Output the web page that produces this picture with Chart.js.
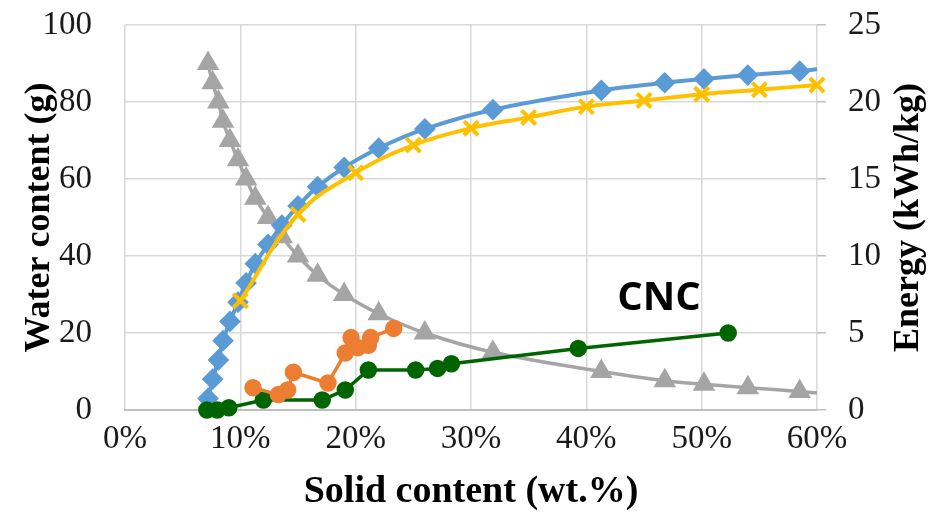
<!DOCTYPE html>
<html>
<head>
<meta charset="utf-8">
<script src="https://cdn.jsdelivr.net/npm/chart.js@4.4.1/dist/chart.umd.min.js"></script>
<style>
  html, body { margin: 0; padding: 0; background: #ffffff; }
  #wrap { width: 933px; height: 515px; position: relative; }
</style>
</head>
<body>
<div id="wrap"><canvas id="c" width="933" height="515"></canvas></div>
<script>
// ---- Data ----
const waterX      = [7.2, 7.6, 8.1, 8.5, 9.1, 9.8, 10.5, 11.3, 12.4, 13.6, 15.0, 16.7, 19.0, 22.0, 26.0, 31.9, 41.3, 46.8, 50.2, 54.0, 58.5, 60.0];
const removedWater = [3, 8, 13, 18, 23, 28, 33, 38, 43, 48, 53, 58, 63, 68, 73, 78, 83, 85, 86, 87, 88, 88.5];
const remainWater  = [90, 85, 80, 75, 70, 65, 60, 55, 50, 45, 40, 35, 30, 25, 20, 15, 10, 7.6, 6.7, 5.8, 4.8, 4.4];
const energyX      = [10, 15, 20, 25, 30, 35, 40, 45, 50, 55, 60];
const energyTheory = [7.1, 12.7, 15.4, 17.2, 18.3, 19.0, 19.7, 20.1, 20.5, 20.8, 21.1];
const orangeX      = [11.1, 13.3, 14.1, 14.6, 17.6, 19.1, 19.6, 20.2, 21.1, 21.3, 23.3];
const orangeY      = [1.45, 1.0, 1.3, 2.45, 1.75, 3.7, 4.7, 4.05, 4.2, 4.7, 5.3];
const cncX         = [7.1, 8.0, 9.0, 12.0, 17.1, 19.1, 21.1, 25.2, 27.1, 28.3, 39.3, 52.3];
const cncY         = [0, 0, 0.15, 0.65, 0.65, 1.3, 2.6, 2.6, 2.7, 3.0, 4.0, 5.0];
const xTicks       = [0, 10, 20, 30, 40, 50, 60];
const leftTicks    = [0, 20, 40, 60, 80, 100];
const rightTicks   = [0, 5, 10, 15, 20, 25];
const cncLabel     = { text: 'CNC', x: 46.3, y: 29 };
const leftTitle    = 'Water content (g)';
const rightTitle   = 'Energy (kWh/kg)';
const bottomTitle  = 'Solid content (wt.%)';

const zip = (xs, ys) => xs.map((x, i) => ({ x: x, y: ys[i] }));
const lastHidden = (n, r) => Array.from({ length: n }, (_, i) => i === n - 1 ? 0 : r);

const serif = "'Liberation Serif', 'Times New Roman', serif";

const extras = {
  id: 'extras',
  afterDatasetsDraw(chart) {
    const { ctx, chartArea, scales } = chart;
    ctx.save();
    // CNC label
    ctx.font = "bold 40px 'Open Sans', 'Liberation Sans', sans-serif";
    ctx.fillStyle = '#000';
    ctx.textAlign = 'center';
    ctx.textBaseline = 'middle';
    ctx.fillText(cncLabel.text, scales.x.getPixelForValue(cncLabel.x), scales.y.getPixelForValue(cncLabel.y));
    // Right axis title (reads bottom to top)
    ctx.font = 'bold 36px ' + serif;
    ctx.translate(909, (chartArea.top + chartArea.bottom) / 2);
    ctx.rotate(-Math.PI / 2);
    ctx.fillText(rightTitle, 0, 0);
    ctx.restore();
  }
};

const fitV = w => s => { s.width = w; s.paddingTop = 0; s.paddingBottom = 0; };

new Chart(document.getElementById('c'), {
  type: 'line',
  data: {
    datasets: [
      {
        label: 'orange', yAxisID: 'y1',
        data: zip(orangeX, orangeY),
        borderColor: '#ed7d31', backgroundColor: '#ed7d31',
        borderWidth: 3.5, pointRadius: 7, pointStyle: 'circle', tension: 0, clip: false
      },
      {
        label: 'CNC', yAxisID: 'y1',
        data: zip(cncX, cncY),
        borderColor: '#006400', backgroundColor: '#006400',
        borderWidth: 3.5, pointRadius: 7, pointStyle: 'circle', tension: 0, clip: false
      },
      {
        label: 'energy', yAxisID: 'y1',
        data: zip(energyX, energyTheory),
        borderColor: '#ffc000', backgroundColor: '#ffc000',
        borderWidth: 4, pointRadius: 10, pointBorderWidth: 4, pointStyle: 'crossRot', tension: 0.4, clip: false
      },
      {
        label: 'removed', yAxisID: 'y',
        data: zip(waterX, removedWater),
        borderColor: '#5b9bd5', backgroundColor: '#5b9bd5',
        borderWidth: 4, pointRadius: lastHidden(waterX.length, 8), pointStyle: 'rectRot', tension: 0.4, clip: false
      },
      {
        label: 'remaining', yAxisID: 'y',
        data: zip(waterX, remainWater),
        borderColor: '#a5a5a5', backgroundColor: '#a5a5a5',
        borderWidth: 3.5, pointRadius: lastHidden(waterX.length, 9.5), pointStyle: 'triangle', tension: 0.4, clip: false
      }
    ]
  },
  options: {
    responsive: false,
    animation: false,
    layout: { padding: { top: 25, left: 0, right: 0, bottom: 0 } },
    plugins: { legend: { display: false }, tooltip: { enabled: false } },
    scales: {
      x: {
        type: 'linear', min: 0, max: 60,
        afterBuildTicks: s => { s.ticks = xTicks.map(v => ({ value: v })); },
        afterFit: s => { s.height = 105; s.paddingLeft = 0; s.paddingRight = 0; },
        grid: { color: '#d9d9d9', lineWidth: 1.5, drawTicks: false },
        border: { display: true, color: '#bfbfbf', width: 2 },
        ticks: { font: { family: serif, size: 33 }, color: '#1a1a1a', padding: 10, maxRotation: 0, callback: v => v + '%' },
        title: { display: true, text: bottomTitle, font: { family: serif, size: 38, weight: 'bold' }, color: '#000', padding: { top: 0, bottom: 0 } }
      },
      y: {
        position: 'left', min: 0, max: 100,
        afterBuildTicks: s => { s.ticks = leftTicks.map(v => ({ value: v })); },
        afterFit: fitV(125),
        grid: { color: '#d9d9d9', lineWidth: 1.5, drawTicks: false },
        border: { display: false },
        ticks: { font: { family: serif, size: 33 }, color: '#1a1a1a', padding: 33 },
        title: { display: true, text: leftTitle, font: { family: serif, size: 36, weight: 'bold' }, color: '#000', padding: { top: 18, bottom: 0 } }
      },
      y1: {
        position: 'right', min: 0, max: 25,
        afterBuildTicks: s => { s.ticks = rightTicks.map(v => ({ value: v })); },
        afterFit: fitV(116),
        grid: { drawOnChartArea: false, drawTicks: true, tickLength: 9, color: '#bfbfbf', lineWidth: 1.5 },
        border: { display: false },
        ticks: { font: { family: serif, size: 33 }, color: '#1a1a1a', padding: 22 }
      }
    }
  },
  plugins: [extras]
});
</script>
</body>
</html>
